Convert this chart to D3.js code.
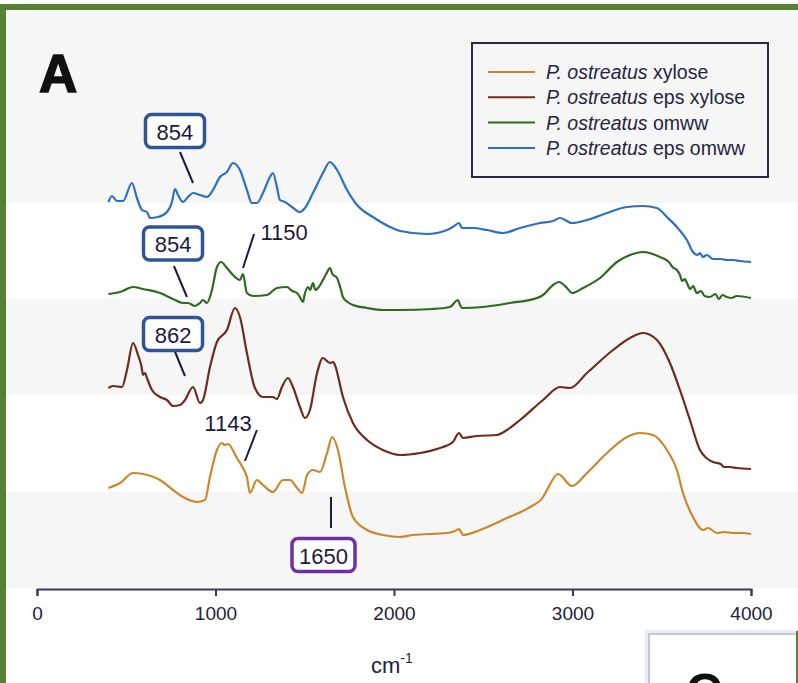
<!DOCTYPE html>
<html>
	<head>
		<meta charset="utf-8" />
		<title>FTIR spectra - P. ostreatus</title>
		<script src="https://d3js.org/d3.v7.min.js"></script>
		<style>
			body { margin: 0; background: #fff; }
			text { font-family: "Liberation Sans", Arial, Helvetica, sans-serif; }
		</style>
	</head>
	<body>
		<svg width="798" height="683"></svg>
		<script>
			// wavenumber (cm-1) and absorbance (a.u., stacked with offset)
			const xylose = [
				[400,100],[465,105],[538,115],[594,114],[689,108],[762,98],[818,91],[896,86],[941,88],
				[969,111],[1008,138],[1036,145],[1050,143],[1070,144],[1120,130],[1154,120],[1176,111],[1193,95],
				[1232,108],[1266,103],[1322,96],[1378,108],[1417,108],[1457,100],[1485,95],[1513,113],
				[1546,118],[1585,116],[1625,135],[1653,151],[1686,138],[1725,101],[1770,71],[1849,58],
				[1938,53],[2034,51],[2106,53],[2297,55],[2342,57],[2364,59],[2376,56],[2386,53],[2482,58],
				[2633,70],[2762,81],[2835,91],[2857,98],[2919,114],[2997,102],[3081,115],[3193,135],
				[3305,151],[3378,155],[3451,153],[3529,138],[3585,118],[3619,95],[3675,71],[3731,58],
				[3760,60],[3809,55],[3850,56],[3899,55],[3950,55],[4000,54]
			];
			const epsXylose = [
				[400,200],[426,202],[476,201],[504,218],[538,245],[566,233],[585,222],[594,213],[605,215],[616,210],
				[644,198],[689,191],[728,188],[762,182],[801,183],[829,188],[874,201],[913,185],
				[930,188],[969,221],[1008,246],[1064,258],[1109,280],[1137,271],[1176,235],[1221,200],
				[1266,191],[1322,191],[1344,189],[1372,201],[1406,210],[1434,201],[1473,181],[1501,170],
				[1529,178],[1569,215],[1602,230],[1641,225],[1660,226],[1669,223],[1714,191],[1770,165],[1849,148],
				[1938,138],[2034,133],[2146,135],[2258,140],[2330,146],[2364,155],[2386,150],[2465,152],
				[2577,153],[2633,158],[2706,168],[2835,188],[2930,201],[2986,200],[3081,215],[3227,238],
				[3322,250],[3395,255],[3473,248],[3546,225],[3602,198],[3658,168],[3714,138],[3750,130],
				[3787,126],[3830,124],[3850,121],[3882,121],[3920,120],[4000,119]
			];
			const omww = [
				[400,294],[465,296],[538,301],[594,299],[689,295],[762,289],[818,285],[846,285],[885,282],
				[913,285],[930,288],[952,285],[980,298],[1008,321],[1031,326],[1064,320],[1098,313],
				[1137,308],[1154,314],[1176,295],[1210,292],[1288,293],[1344,300],[1400,301],[1430,297],
				[1457,295],[1475,290],[1490,286],[1500,294],[1518,301],[1530,298],[1546,305],[1560,298],[1574,300],[1590,304],
				[1602,308],[1620,314],[1641,320],[1655,314],[1681,310],[1700,300],[1714,291],[1740,286],[1770,283],
				[1849,280],[1938,278],[2034,278],[2218,279],[2314,281],[2358,288],[2370,283],[2381,280],
				[2498,281],[2650,285],[2801,290],[2835,293],[2891,303],[2924,306],[2969,300],[2997,295],
				[3059,300],[3154,310],[3249,326],[3322,333],[3395,336],[3490,331],[3540,326],[3560,321],[3585,318],
				[3600,314],[3615,307],[3630,309],[3641,305],[3660,299],[3675,302],[3697,295],[3720,297],[3740,292],
				[3770,291],[3800,294],[3820,289],[3840,293],[3865,291],[3890,290],[3920,292],[4000,290]
			];
			const epsOmww = [
				[400,386],[420,392],[448,387],[482,387],[532,405],[560,390],[588,378],[616,376],[633,370],
				[678,371],[728,376],[756,386],[773,399],[790,393],[818,386],[846,391],[874,395],[913,393],
				[952,391],[986,398],[1025,411],[1064,416],[1098,425],[1137,418],[1176,398],[1204,385],
				[1232,385],[1266,395],[1305,411],[1322,415],[1344,401],[1361,388],[1389,386],[1428,381],
				[1473,376],[1501,380],[1546,395],[1602,415],[1641,426],[1681,418],[1737,398],[1793,383],
				[1882,371],[1978,361],[2034,357],[2185,354],[2297,358],[2330,361],[2364,365],[2381,360],
				[2442,360],[2521,358],[2611,355],[2706,360],[2818,365],[2891,367],[2930,370],[2997,365],
				[3081,368],[3193,375],[3305,381],[3395,382],[3473,380],[3529,371],[3585,361],[3641,348],
				[3675,336],[3700,333],[3714,335],[3730,331],[3753,333],[3787,329],[3830,329],[3865,328],[3900,328],[3938,327],[4000,326]
			];

			const seriesNames = ["xylose", "eps xylose", "omww", "eps omww"];
			const seriesColors = ["#c9892b", "#6e2c1c", "#2e6a1f", "#2d70c0"];
			const seriesData = [xylose, epsXylose, omww, epsOmww];
			const xTicks = [0, 1000, 2000, 3000, 4000];

			const svg = d3.select("svg");
			const x = d3.scaleLinear().domain([0, 4000]).range([37, 751]);
			const y = d3.scaleLinear().domain([0, 578]).range([588, 10]);

			// frame + background bands
			svg.append("rect").attr("x", 0).attr("y", 4).attr("width", 798).attr("height", 6).attr("fill", "#548235");
			svg.append("rect").attr("x", 0).attr("y", 4).attr("width", 6).attr("height", 679).attr("fill", "#548235");
			svg.append("rect").attr("x", 6).attr("y", 10).attr("width", 792).attr("height", y(0) - 10).attr("fill", "#f6f6f6");
			[[96, 193], [289, 385]].forEach(([lo, hi]) => {
				svg.append("rect")
					.attr("x", 6).attr("y", y(hi))
					.attr("width", 792).attr("height", y(lo) - y(hi))
					.attr("fill", "#ffffff");
			});

			// spectra
			const line = d3.line()
				.x((d) => x(d[0]))
				.y((d) => y(d[1]))
				.curve(d3.curveMonotoneX);

			seriesData.forEach((data, i) => {
				svg.append("path")
					.attr("d", line(data))
					.attr("fill", "none")
					.attr("stroke", seriesColors[i])
					.attr("stroke-width", 2.2)
					.attr("stroke-linejoin", "round");
			});

			// x axis
			const axis = svg.append("g")
				.attr("transform", `translate(0,${y(0) + 1})`)
				.call(d3.axisBottom(x).tickValues(xTicks).tickSize(7).tickPadding(11).tickFormat(d3.format("d")));
			axis.select(".domain").attr("stroke", "#3a3a5c").attr("stroke-width", 2);
			axis.selectAll(".tick line").attr("stroke", "#3a3a5c").attr("stroke-width", 2);
			axis.selectAll(".tick text")
				.attr("fill", "#222238")
				.style("font-size", "19px")
				.style("font-family", "Liberation Sans, Arial, sans-serif");

			const xl = svg.append("text")
				.attr("x", 371).attr("y", 673)
				.attr("fill", "#222238")
				.style("font-size", "22px");
			xl.append("tspan").text("cm");
			xl.append("tspan").attr("dy", -10).style("font-size", "14px").text("-1");

			// panel letter
			svg.append("text")
				.attr("x", 39).attr("y", 92)
				.attr("fill", "#111")
				.style("font-size", "53px")
				.style("font-weight", "bold")
				.style("stroke", "#111").style("stroke-width", 1.5)
				.text("A");

			// legend
			const lg = svg.append("g");
			lg.append("rect")
				.attr("x", 472).attr("y", 43).attr("width", 296).attr("height", 134)
				.attr("fill", "#f6f6f6").attr("stroke", "#2a2a48").attr("stroke-width", 2);
			seriesNames.forEach((name, i) => {
				const cy = 72 + i * 25.3;
				lg.append("line")
					.attr("x1", 488).attr("x2", 535).attr("y1", cy).attr("y2", cy)
					.attr("stroke", seriesColors[i]).attr("stroke-width", 2);
				const t = lg.append("text")
					.attr("x", 546).attr("y", cy + 7)
					.attr("fill", "#25253f")
					.style("font-size", "19.5px");
				t.append("tspan").style("font-style", "italic").text("P. ostreatus");
				t.append("tspan").text(" " + name);
			});

			// peak annotations (positions in wavenumber / a.u.)
			const annotations = [
				{ text: "854", at: [773, 457], box: "#2f5597", from: [801, 436], to: [874, 405] },
				{ text: "854", at: [762, 344.5], box: "#2f5597", from: [767, 322], to: [840, 291] },
				{ text: "862", at: [762, 254], box: "#2f5597", from: [762, 241], to: [829, 212] },
				{ text: "1150", at: [1384, 357], box: null, from: [1216, 354], to: [1154, 320] },
				{ text: "1143", at: [1070, 166], box: null, from: [1232, 158], to: [1165, 127] },
				{ text: "1650", at: [1605, 33], box: "#7030a0", from: [1647, 91], to: [1647, 60] }
			];
			annotations.forEach((a) => {
				svg.append("line")
					.attr("x1", x(a.from[0])).attr("y1", y(a.from[1]))
					.attr("x2", x(a.to[0])).attr("y2", y(a.to[1]))
					.attr("stroke", "#1c1c3a").attr("stroke-width", 2);
				const cx = x(a.at[0]), cy = y(a.at[1]);
				if (a.box) {
					const w = a.text.length === 4 ? 63 : 59;
					svg.append("rect")
						.attr("x", cx - w / 2).attr("y", cy - 16.5)
						.attr("width", w).attr("height", 33).attr("rx", 6)
						.attr("fill", "#fff").attr("stroke", a.box).attr("stroke-width", 3.5);
				}
				svg.append("text")
					.attr("x", cx).attr("y", cy + 1)
					.attr("text-anchor", "middle").attr("dominant-baseline", "central")
					.attr("fill", "#1c1c3a")
					.style("font-size", "22px")
					.text(a.text);
			});

			// edge of the neighbouring panel
			svg.append("rect").attr("x", 645).attr("y", 630).attr("width", 160).attr("height", 60).attr("fill", "#ececec");
			svg.append("rect").attr("x", 649).attr("y", 634).attr("width", 160).attr("height", 60)
				.attr("fill", "#fff").attr("stroke", "#a8bdd6").attr("stroke-width", 1.5);
			svg.append("text").attr("x", 686).attr("y", 709)
				.attr("fill", "#111").style("font-size", "50px").style("font-weight", "bold").text("C");
			svg.append("rect").attr("x", 796).attr("y", 631).attr("width", 2).attr("height", 52).attr("fill", "#548235");
		</script>
	</body>
</html>
